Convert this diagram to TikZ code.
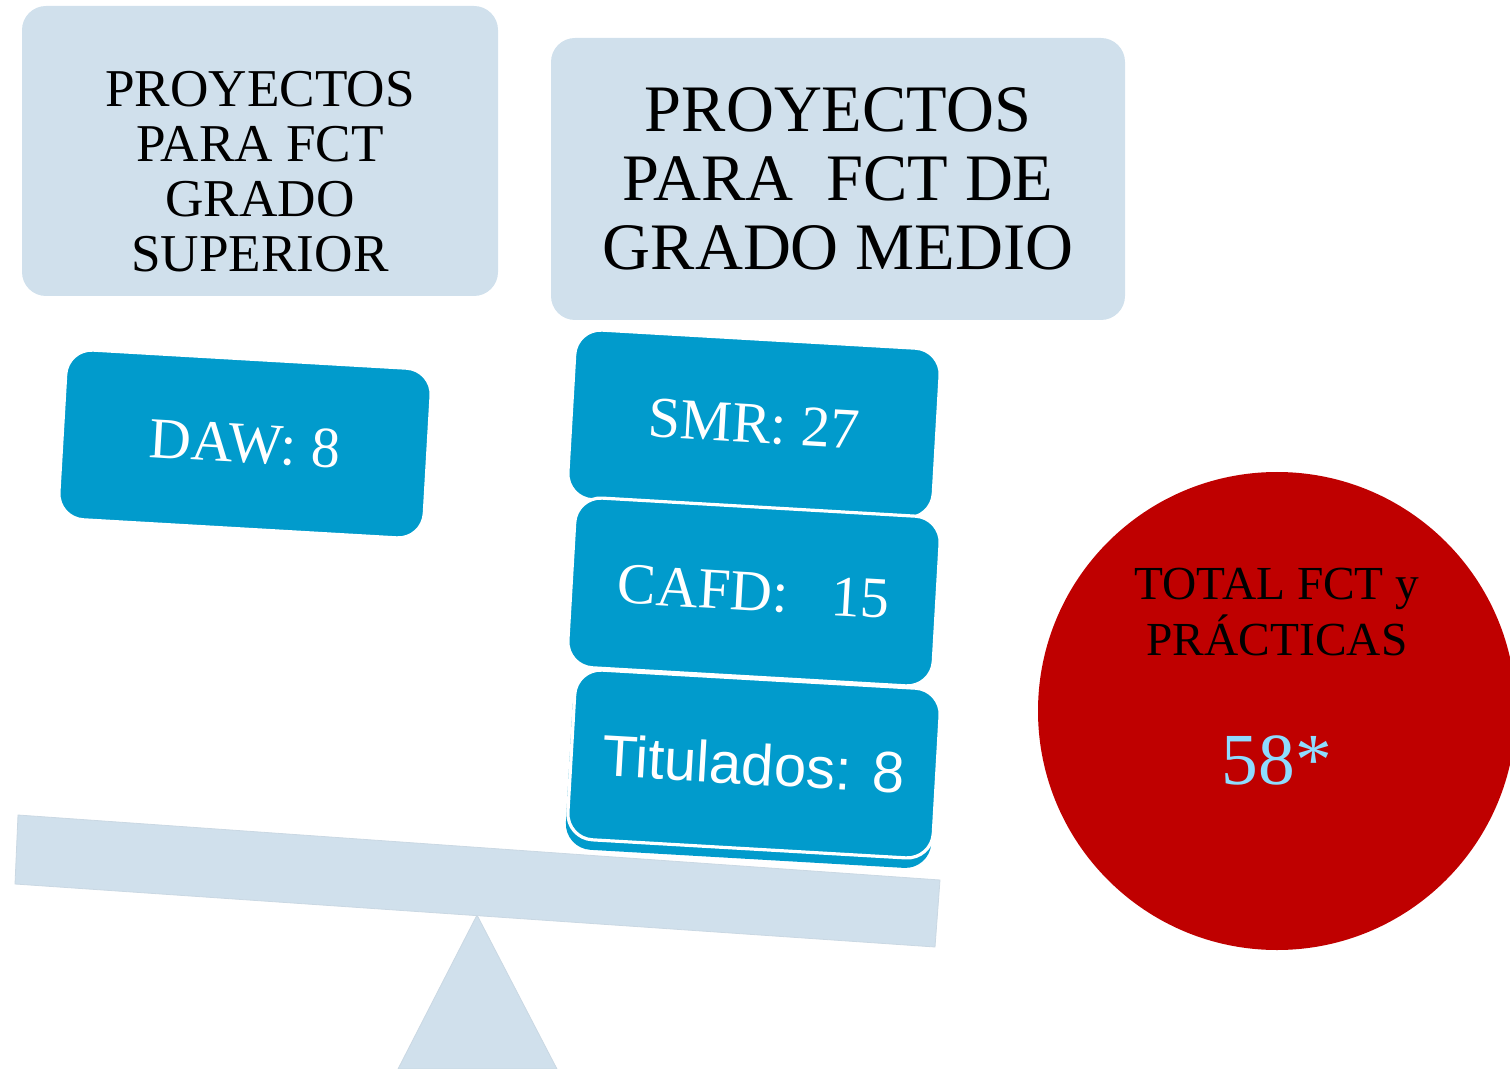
\documentclass[tikz,border=0pt]{standalone}
\usepackage{fontspec}
\setmainfont{Liberation Serif}
\setsansfont{Liberation Sans}
\usepackage{tikz}
\usetikzlibrary{shapes}
\definecolor{paleblue}{HTML}{D0E0EC}
\definecolor{boxblue}{HTML}{019BCC}
\definecolor{totalred}{HTML}{BF0000}
\definecolor{skyblue}{HTML}{8EDCFF}

\begin{document}
\begin{tikzpicture}[x=0.5pt,y=-0.5pt,
    head/.style={fill=paleblue,rounded corners=12pt,inner sep=0pt},
    item/.style={draw=white,line width=1.6pt,fill=boxblue,rounded corners=13pt,minimum width=183pt,minimum height=85pt,rotate=-3.3,text=white,font=\fontsize{29}{34}\selectfont}]
            \useasboundingbox (0,0) rectangle (1510,1069);
            % balanza
            \draw[fill=paleblue,draw=paleblue!92!gray] (477,915) -- (557,1069) -- (398,1069) -- cycle;
            \draw[fill=paleblue,draw=paleblue!92!gray] (18,815) -- (940,880) -- (935,947) -- (15,884) -- cycle;
            % cabeceras
            \node[head,minimum width=238pt,minimum height=145pt] (sup) at (260,151) {};
            \node[align=center,font=\fontsize{26.6}{27.5}\selectfont] (suptxt) at (260,172) {PROYECTOS\\PARA FCT\\GRADO\\SUPERIOR};
            \node[head,minimum width=287pt,minimum height=141pt,align=center,font=\fontsize{33.2}{34.5}\selectfont] (med) at (838,179) {PROYECTOS\\PARA\ \ FCT DE\\GRADO MEDIO};
            % ciclos
            \node[item] (daw) at (245,444) {DAW: 8};
            \node[item] (smr) at (754,424) {SMR: 27};
            \node[item] (cafd) at (754,592) {CAFD:\ \ \ 15};
            \node[item,draw=none] (titsh) at (752,774) {};
            \node[item,font=\sffamily\fontsize{29}{34}\selectfont] (tit) at (754,764) {Titulados: 8};
            % total
            \node[circle,fill=totalred,minimum size=239pt,inner sep=0pt] (tot) at (1277,711) {};
            \node[align=center,font=\fontsize{23.7}{28}\selectfont] (tottxt) at (1277,612) {TOTAL FCT y\\PRÁCTICAS};
            \node[text=skyblue,font=\fontsize{36.7}{42}\selectfont] (num) at (1277,760) {58*};
        \end{tikzpicture}
\end{document}
